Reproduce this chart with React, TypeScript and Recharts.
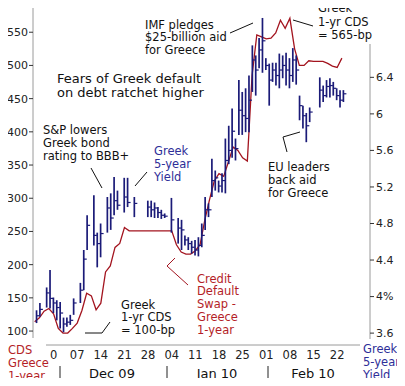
import {
  ComposedChart,
  Line,
  Scatter,
  ErrorBar,
  XAxis,
  YAxis,
  ReferenceLine,
} from "recharts";

// Greece 1-year CDS (bp), one value per trading day, first day = Tue Nov 24 2009
const cdsFirstDay = -4; // trading days from Mon Nov 30 2009
const cdsValues = [
  114, 120, 130, 134, 126, 104, 97, 97, 104, 112, 131, 157, 153, 132, 142, 189,
  198, 226, 232, 256, 251, 251, 251, 251, 251, 251, 251, 251, 251, 251, 230,
  219, 216, 216, 221, 230, 267, 298, 326, 337, 333, 355, 377, 372, 361, 356,
  485, 546, 543, 540, 541, 549, 568, 556, 571, 525, 500, 500, 507, 506, 506,
  506, 503, 499, 497, 511,
];

// Greek 5-year yield (%), daily high / low / close, by calendar day from Nov 30 2009
const yieldDays = [
  -5, -4, -2, -1, 0, 1, 2, 3, 4, 5, 6, 8, 9, 10, 12, 13, 14, 16, 17, 18, 19, 21,
  22, 24, 28, 29, 30, 31, 32, 33, 35, 37, 38, 39, 40, 41, 42, 43, 44, 45, 46,
  47, 48, 49, 50, 51, 52, 53, 54, 55, 56, 57, 58, 59, 60, 61, 62, 63, 64, 65,
  66, 67, 68, 69, 70, 71, 72, 73, 74, 75, 76, 79, 80, 81, 82, 83, 84, 85, 86,
];
const yieldHigh = [
  3.85, 3.93, 4.1, 4.29, 3.99, 3.96, 3.94, 3.77, 3.77, 3.8, 3.98, 4.15, 4.51,
  4.89, 5.11, 4.7, 4.8, 5.09, 5.13, 5.31, 5.16, 5.3, 5.3, 5.09, 5.05, 5.05,
  5.03, 4.98, 4.95, 4.91, 5.08, 4.86, 4.84, 4.67, 4.65, 4.61, 4.62, 4.65, 4.8,
  5.09, 5.02, 5.51, 5.38, 5.27, 5.35, 5.73, 5.87, 6.06, 5.73, 6.37, 6.24, 6.28,
  6.42, 6.75, 6.64, 6.83, 7.05, 6.61, 6.55, 6.56, 6.56, 6.66, 6.64, 6.67, 6.61,
  6.72, 6.64, 6.2, 6.09, 6.01, 6.07, 6.4, 6.31, 6.37, 6.39, 6.35, 6.28, 6.26,
  6.26,
];
const yieldLow = [
  3.71, 3.78, 3.88, 3.87, 3.82, 3.74, 3.65, 3.61, 3.67, 3.69, 3.8, 3.93, 4.07,
  4.51, 4.56, 4.32, 4.43, 4.7, 4.73, 4.89, 4.95, 4.92, 4.98, 4.87, 4.87, 4.87,
  4.86, 4.86, 4.85, 4.86, 4.7, 4.58, 4.51, 4.56, 4.51, 4.47, 4.45, 4.44, 4.54,
  4.73, 4.87, 5.09, 5.16, 5.14, 5.14, 5.13, 5.45, 5.52, 5.49, 5.77, 5.77, 5.8,
  5.8, 6.24, 6.2, 6.5, 6.45, 6.48, 6.09, 6.35, 6.31, 6.28, 6.39, 6.31, 6.28,
  6.35, 6.32, 5.93, 5.84, 5.69, 5.91, 6.07, 6.13, 6.18, 6.18, 6.2, 6.15, 6.07,
  6.13,
];
const yieldClose = [
  3.79, 3.86, 4.04, 3.98, 3.93, 3.88, 3.82, 3.7, 3.72, 3.74, 3.93, 4.07, 4.41,
  4.78, 4.67, 4.58, 4.69, 4.97, 4.86, 5.05, 5.0, 5.09, 5.03, 5.02, 4.98, 4.95,
  4.97, 4.92, 4.89, 4.88, 4.84, 4.75, 4.73, 4.62, 4.58, 4.54, 4.51, 4.56, 4.67,
  4.95, 4.95, 5.27, 5.3, 5.21, 5.27, 5.49, 5.6, 5.81, 5.62, 6.04, 5.98, 5.95,
  6.15, 6.59, 6.48, 6.7, 6.8, 6.53, 6.37, 6.48, 6.42, 6.48, 6.53, 6.48, 6.42,
  6.59, 6.48, 6.09, 5.98, 5.87, 6.02, 6.26, 6.2, 6.3, 6.31, 6.28, 6.2, 6.15,
  6.22,
];

// axis ticks
const weekTicks = [0, 5, 10, 15, 20, 25, 30, 35, 40, 45, 50, 55, 60];
const weekLabels = ["0", "07", "14", "21", "28", "04", "11", "18", "25", "01", "08", "15", "22"];
const cdsTicks = [100, 150, 200, 250, 300, 350, 400, 450, 500, 550];
const yieldTicks = [3.6, 4, 4.4, 4.8, 5.2, 5.6, 6, 6.4];
const months = ["Dec 09", "Jan 10", "Feb 10"];

const RED = "#a3141f";
const RED_TEXT = "#b41e28";
const BLUE = "#1b1b78";
const BLUE_TEXT = "#2e2e98";
const FONT = "'DejaVu Sans', Verdana, sans-serif";

const cdsData = cdsValues.map((v, k) => ({ i: k + cdsFirstDay, v }));
const yieldData = yieldDays.map((d, k) => ({
  d,
  c: yieldClose[k],
  err: [yieldClose[k] - yieldLow[k], yieldHigh[k] - yieldClose[k]],
}));

const CloseTick = (props: any) => {
  const { cx, cy } = props;
  if (cx == null || cy == null) return <g />;
  return <line x1={cx} x2={cx + 3} y1={cy} y2={cy} stroke={BLUE} strokeWidth={1.2} />;
};

const note = (extra: any) => ({
  position: "absolute" as const,
  fontFamily: FONT,
  fontSize: 11.5,
  lineHeight: "12.8px",
  whiteSpace: "pre" as const,
  color: "#111",
  ...extra,
});

export default function App() {
  const tickStyle = { fill: "#222", fontSize: 11, fontFamily: FONT };
  return (
    <div
      style={{
        position: "relative",
        width: 405,
        height: 386,
        margin: -8,
        background: "#fff",
        overflow: "hidden",
      }}
    >
      <ComposedChart width={405} height={386} margin={{ top: 7, right: 0, bottom: 0, left: 0 }}>
        <XAxis
          xAxisId="cds"
          type="number"
          dataKey="i"
          domain={[-4.35, 66.95]}
          allowDataOverflow
          ticks={weekTicks}
          interval={0}
          tickFormatter={(v) => weekLabels[weekTicks.indexOf(v)]}
          tickLine={false}
          tickSize={4}
          tickMargin={2}
          height={41}
          axisLine={{ stroke: "#9a9a9a" }}
          tick={{ ...tickStyle, fontSize: 11.5 }}
        />
        <XAxis
          xAxisId="yld"
          type="number"
          dataKey="d"
          domain={[-6.05, 93.89]}
          allowDataOverflow
          hide
        />
        <YAxis
          yAxisId="cds"
          width={33}
          domain={[79, 588]}
          allowDataOverflow
          ticks={cdsTicks}
          interval={0}
          tickSize={4}
          tickMargin={1}
          axisLine={{ stroke: "#9a9a9a" }}
          tickLine={{ stroke: "#333" }}
          tick={tickStyle}
        />
        <YAxis
          yAxisId="yld"
          orientation="right"
          width={35}
          domain={[3.47, 7.17]}
          allowDataOverflow
          ticks={yieldTicks}
          interval={0}
          tickSize={4}
          tickMargin={2}
          tickFormatter={(v) => (v === 4 ? "4%" : String(v))}
          axisLine={{ stroke: "#9a9a9a" }}
          tickLine={{ stroke: "#333" }}
          tick={tickStyle}
        />
        <ReferenceLine xAxisId="cds" yAxisId="cds" y={588} stroke="#9a9a9a" />
        <Line
          xAxisId="cds"
          yAxisId="cds"
          data={cdsData}
          dataKey="v"
          type="linear"
          stroke={RED}
          strokeWidth={1.3}
          dot={false}
          isAnimationActive={false}
        />
        <Scatter
          xAxisId="yld"
          yAxisId="yld"
          data={yieldData}
          dataKey="c"
          shape={CloseTick}
          isAnimationActive={false}
        >
          <ErrorBar
            dataKey="err"
            direction="y"
            width={0}
            stroke={BLUE}
            strokeWidth={1.7}
            isAnimationActive={false}
          />
        </Scatter>
      </ComposedChart>

      <svg
        width={405}
        height={386}
        style={{ position: "absolute", left: 0, top: 0, pointerEvents: "none" }}
      >
        <g stroke="#111" strokeWidth={1} fill="none">
          <line x1={91} y1={168} x2={102} y2={188} />
          <line x1={147} y1={172} x2={135} y2={186} />
          <line x1={230} y1={33} x2={253} y2={23} />
          <line x1={293} y1={20} x2={313} y2={26} />
          <polyline points="300,132 283,137 287,152" />
          <polyline points="85,333 102,333 110,322" />
        </g>
        <polyline points="175,258 167,266 188,285" stroke={RED} fill="none" />
        <g stroke="#222" strokeWidth={1}>
          <line x1={60} y1={366} x2={60} y2={381} />
          <line x1={167} y1={366} x2={167} y2={381} />
          <line x1={268} y1={366} x2={268} y2={381} />
        </g>
      </svg>

      {months.map((m, k) => (
        <div
          key={m}
          style={note({
            left: [112, 217, 313][k] - 30,
            width: 60,
            textAlign: "center",
            top: 367,
            fontSize: 13,
            lineHeight: "14px",
          })}
        >
          {m}
        </div>
      ))}

      <div style={note({ left: 145, top: 18.5, lineHeight: "12.7px" })}>
        {"IMF pledges\n$25-billion aid\nfor Greece"}
      </div>
      <div style={note({ left: 57, top: 72, fontSize: 13, lineHeight: "13.5px" })}>
        {"Fears of Greek default\non debt ratchet higher"}
      </div>
      <div style={note({ left: 43, top: 123.5, lineHeight: "13px" })}>
        {"S&P lowers\nGreek bond\nrating to BBB+"}
      </div>
      <div style={note({ left: 154, top: 144.5, lineHeight: "13px", color: BLUE_TEXT })}>
        {"Greek\n5-year\nYield"}
      </div>
      <div
        style={note({
          left: 314,
          top: 0,
          width: 91,
          height: 44,
          paddingLeft: 4,
          paddingTop: 2,
          boxSizing: "border-box",
          lineHeight: "13.5px",
          background: "#fff",
        })}
      >
        {"Greek\n1-yr CDS\n= 565-bp"}
      </div>
      <div style={note({ left: 268, top: 160.5, lineHeight: "13px" })}>
        {"EU leaders\nback aid\nfor Greece"}
      </div>
      <div style={note({ left: 121, top: 298.5, lineHeight: "12.7px" })}>
        {"Greek\n1-yr CDS\n= 100-bp"}
      </div>
      <div style={note({ left: 197, top: 272.5, lineHeight: "12.8px", color: RED_TEXT })}>
        {"Credit\nDefault\nSwap -\nGreece\n1-year"}
      </div>
      <div
        style={note({
          left: 0,
          top: 338,
          width: 46,
          height: 48,
          paddingLeft: 8,
          paddingTop: 6,
          boxSizing: "border-box",
          lineHeight: "13px",
          background: "#fff",
          color: RED_TEXT,
        })}
      >
        {"CDS\nGreece\n1-year"}
      </div>
      <div
        style={note({
          left: 360,
          top: 339,
          width: 45,
          height: 47,
          paddingLeft: 3,
          paddingTop: 4,
          boxSizing: "border-box",
          lineHeight: "13px",
          background: "#fff",
          color: BLUE_TEXT,
        })}
      >
        {"Greek\n5-year\nYield"}
      </div>
    </div>
  );
}
